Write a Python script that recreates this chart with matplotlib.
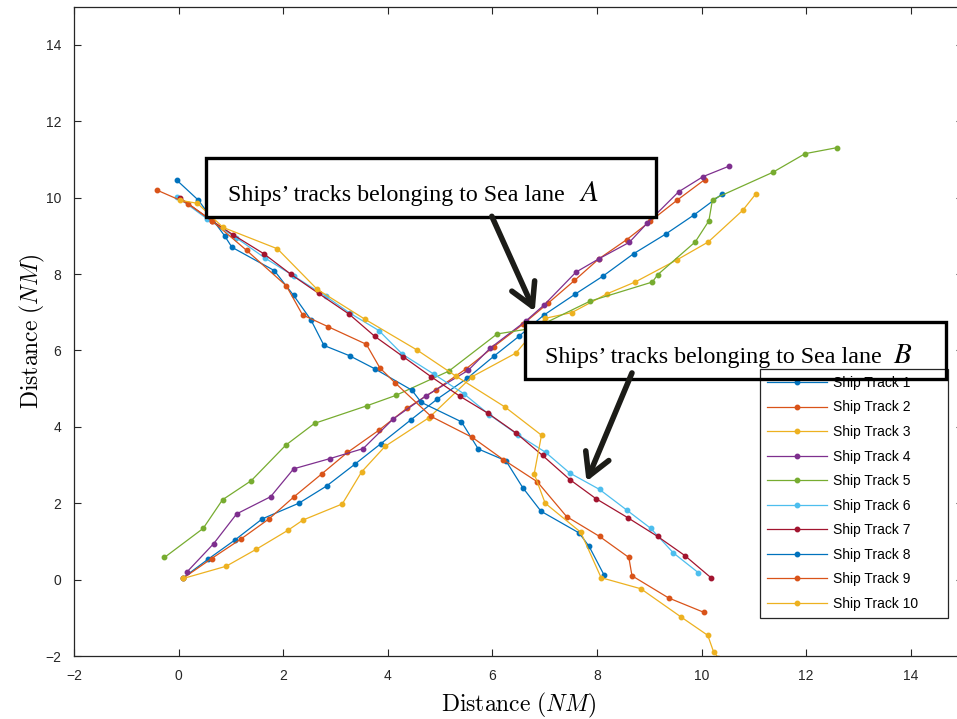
import numpy as np
import matplotlib
matplotlib.use("Agg")
import matplotlib.pyplot as plt
from matplotlib.patches import Rectangle

# Sea lane A: tracks heading north-east
track1_x = [0.08, 0.57, 1.08, 1.60, 2.30, 2.83, 3.37, 3.87, 4.44, 4.95, 5.52, 6.04, 6.51, 6.98, 7.58, 8.11, 8.70, 9.32, 9.86, 10.39]
track1_y = [0.04, 0.54, 1.04, 1.59, 2.00, 2.45, 3.02, 3.56, 4.18, 4.73, 5.27, 5.86, 6.37, 6.92, 7.47, 7.94, 8.53, 9.05, 9.55, 10.09]
track2_x = [0.08, 0.63, 1.20, 1.73, 2.20, 2.74, 3.23, 3.83, 4.36, 4.92, 5.50, 6.03, 6.58, 7.07, 7.57, 8.04, 8.57, 9.02, 9.54, 10.06]
track2_y = [0.03, 0.55, 1.07, 1.59, 2.16, 2.77, 3.33, 3.91, 4.48, 4.97, 5.52, 6.10, 6.68, 7.24, 7.83, 8.40, 8.90, 9.38, 9.94, 10.47]
track3_x = [0.09, 0.91, 1.48, 2.09, 2.38, 3.13, 3.50, 3.95, 4.79, 5.61, 6.45, 7.01, 7.52, 8.19, 8.73, 9.53, 10.13, 10.79, 11.04]
track3_y = [0.03, 0.35, 0.79, 1.29, 1.56, 1.98, 2.82, 3.49, 4.24, 5.31, 5.93, 6.84, 6.99, 7.48, 7.79, 8.37, 8.84, 9.67, 10.10]
track4_x = [0.16, 0.67, 1.11, 1.76, 2.20, 2.90, 3.53, 4.10, 4.73, 5.54, 5.96, 6.64, 6.99, 7.60, 8.04, 8.62, 8.96, 9.56, 10.03, 10.52]
track4_y = [0.20, 0.94, 1.72, 2.17, 2.90, 3.17, 3.43, 4.20, 4.81, 5.48, 6.06, 6.77, 7.19, 8.05, 8.40, 8.83, 9.33, 10.15, 10.55, 10.82]
track5_x = [-0.27, 0.47, 0.84, 1.39, 2.05, 2.60, 3.60, 4.15, 5.17, 6.09, 6.82, 7.87, 9.06, 9.16, 9.88, 10.14, 10.21, 11.36, 11.98, 12.60]
track5_y = [0.58, 1.34, 2.09, 2.59, 3.52, 4.09, 4.55, 4.82, 5.46, 6.43, 6.59, 7.29, 7.79, 7.98, 8.84, 9.39, 9.95, 10.66, 11.15, 11.31]

# Sea lane B: tracks heading south-east
track6_x = [-0.03, 0.55, 1.10, 1.65, 2.20, 2.81, 3.27, 3.83, 4.28, 4.88, 5.45, 5.94, 6.49, 7.02, 7.48, 8.05, 8.58, 9.03, 9.46, 9.94]
track6_y = [10.02, 9.44, 8.95, 8.42, 7.95, 7.42, 6.98, 6.52, 5.90, 5.38, 4.87, 4.32, 3.79, 3.33, 2.79, 2.36, 1.81, 1.34, 0.70, 0.18]
track7_x = [0.03, 0.63, 1.05, 1.63, 2.15, 2.68, 3.26, 3.75, 4.29, 4.83, 5.38, 5.91, 6.45, 6.96, 7.48, 7.98, 8.59, 9.16, 9.68, 10.18]
track7_y = [9.99, 9.40, 9.02, 8.53, 7.99, 7.49, 6.95, 6.37, 5.84, 5.31, 4.80, 4.36, 3.84, 3.25, 2.62, 2.12, 1.62, 1.13, 0.63, 0.05]
track8_x = [-0.03, 0.38, 0.88, 1.02, 1.83, 2.20, 2.53, 2.78, 3.27, 3.75, 4.46, 4.64, 5.41, 5.73, 6.26, 6.58, 6.93, 7.66, 7.85, 8.14]
track8_y = [10.45, 9.93, 9.00, 8.70, 8.09, 7.44, 6.80, 6.13, 5.86, 5.52, 4.96, 4.64, 4.13, 3.42, 3.11, 2.41, 1.79, 1.22, 0.87, 0.11]
track9_x = [-0.42, 0.18, 0.63, 1.30, 2.06, 2.37, 2.86, 3.59, 3.85, 4.14, 4.83, 5.62, 6.21, 6.86, 7.42, 8.05, 8.61, 8.67, 9.37, 10.05]
track9_y = [10.20, 9.84, 9.40, 8.62, 7.69, 6.93, 6.62, 6.16, 5.54, 5.15, 4.27, 3.72, 3.14, 2.56, 1.65, 1.13, 0.58, 0.10, -0.48, -0.86]
track10_x = [0.03, 0.36, 0.85, 1.89, 2.65, 3.57, 4.56, 5.30, 6.24, 6.94, 6.80, 7.01, 7.69, 8.08, 8.84, 9.61, 10.12, 10.23, 10.32]
track10_y = [9.93, 9.85, 9.22, 8.66, 7.60, 6.81, 6.01, 5.33, 4.52, 3.78, 2.77, 2.00, 1.24, 0.05, -0.24, -0.98, -1.46, -1.89, -2.04]

tracks_x = [track1_x, track2_x, track3_x, track4_x, track5_x,
            track6_x, track7_x, track8_x, track9_x, track10_x]
tracks_y = [track1_y, track2_y, track3_y, track4_y, track5_y,
            track6_y, track7_y, track8_y, track9_y, track10_y]
labels = ["Ship Track %d" % (i + 1) for i in range(10)]
colours = ["#0072BD", "#D95319", "#EDB120", "#7E2F8E", "#77AC30",
           "#4DBEEE", "#A2142F", "#0072BD", "#D95319", "#EDB120"]

ticks = [-2, 0, 2, 4, 6, 8, 10, 12, 14]

plt.rcParams["mathtext.fontset"] = "cm"

fig = plt.figure(figsize=(9.57, 7.19), dpi=100)
ax = fig.add_axes([74 / 957, 63 / 719, 889 / 957, 649.4 / 719])

for xs, ys, c, lab in zip(tracks_x, tracks_y, colours, labels):
    # pad the label so the legend box gets the wide right margin
    ax.plot(xs, ys, "-o", color=c, lw=0.9, ms=3.2, label=lab + " " * 6, zorder=2)

ax.set_xlim(-2, 15)
ax.set_ylim(-2, 15)
ax.set_xticks(ticks)
ax.set_yticks(ticks)
ax.tick_params(direction="in", length=5, width=0.8, colors="#262626",
               top=True, right=True, labelsize=10)
ax.tick_params(axis="y", pad=9)
ax.tick_params(axis="x", pad=9)
for lbl in ax.get_xticklabels() + ax.get_yticklabels():
    lbl.set_fontfamily("Liberation Sans")
for sp in ax.spines.values():
    sp.set_color("#262626")
    sp.set_linewidth(0.9)

ax.set_xlabel(r"$\mathrm{Distance}\ (NM)$", fontsize=17, labelpad=6)
ax.set_ylabel(r"$\mathrm{Distance}\ (NM)$", fontsize=17, labelpad=-1)

leg = ax.legend(loc="upper left", bbox_to_anchor=(0.772, 0.442), borderaxespad=0,
                fancybox=False, edgecolor="#262626", framealpha=1, numpoints=1,
                handlelength=4.3, labelspacing=0.76, borderpad=0.5, handletextpad=0.4,
                prop={"family": "Liberation Sans", "size": 10})
leg.get_frame().set_linewidth(0.9)
leg.set_zorder(5)

# callout boxes for the two sea lanes
boxes = [(0.52, 9.50, 8.61, 1.53), (6.63, 5.24, 8.05, 1.51)]
for bx, by, bw, bh in boxes:
    ax.add_patch(Rectangle((bx, by), bw, bh, facecolor="white", edgecolor="none", zorder=3))
    ax.add_patch(Rectangle((bx, by), bw, bh, facecolor="none", edgecolor="black",
                           lw=2.4, zorder=6))

ax.text(0.95, 9.90, "Ships\u2019 tracks belonging to Sea lane", family="Liberation Serif",
        fontsize=17.3, va="baseline", zorder=7)
ax.text(7.84, 9.90, "$A$", fontsize=21, math_fontfamily="stix", ha="center",
        va="baseline", zorder=7)
ax.text(7.01, 5.68, "Ships\u2019 tracks belonging to Sea lane", family="Liberation Serif",
        fontsize=17.3, va="baseline", zorder=7)
ax.text(13.84, 5.68, "$B$", fontsize=21, math_fontfamily="stix", ha="center",
        va="baseline", zorder=7)

arrow = dict(arrowstyle="->,head_length=0.8,head_width=0.45", lw=4, color="#1c1c18",
             mutation_scale=20, shrinkA=0, shrinkB=0)
ax.annotate("", xy=(6.81, 7.02), xytext=(5.99, 9.51), arrowprops=arrow, zorder=7)
ax.annotate("", xy=(7.80, 2.57), xytext=(8.67, 5.41), arrowprops=arrow, zorder=7)

fig.savefig("out.png", dpi=100)
